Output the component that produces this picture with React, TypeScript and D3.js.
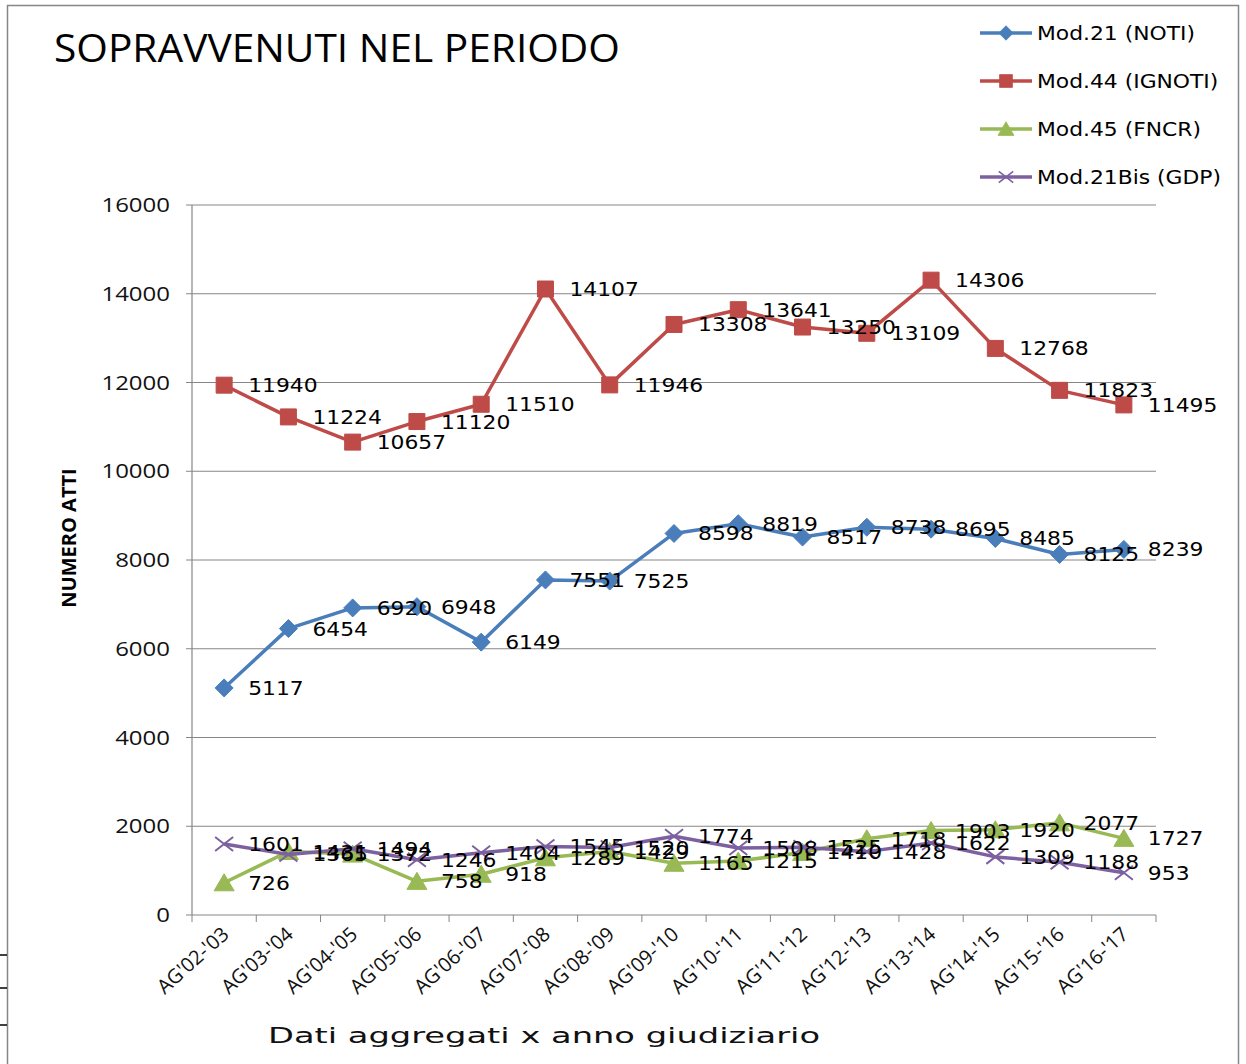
import * as d3 from 'd3';

const categories = [
  "AG'02-'03", "AG'03-'04", "AG'04-'05", "AG'05-'06", "AG'06-'07",
  "AG'07-'08", "AG'08-'09", "AG'09-'10", "AG'10-'11", "AG'11-'12",
  "AG'12-'13", "AG'13-'14", "AG'14-'15", "AG'15-'16", "AG'16-'17",
];

const noti = [5117, 6454, 6920, 6948, 6149, 7551, 7525, 8598, 8819, 8517, 8738, 8695, 8485, 8125, 8239];
const ignoti = [11940, 11224, 10657, 11120, 11510, 14107, 11946, 13308, 13641, 13250, 13109, 14306, 12768, 11823, 11495];
const fncr = [726, 1431, 1372, 758, 918, 1289, 1429, 1165, 1215, 1410, 1718, 1903, 1920, 2077, 1727];
const gdp = [1601, 1365, 1494, 1246, 1404, 1545, 1520, 1774, 1508, 1525, 1428, 1622, 1309, 1188, 953];

const yTicks = [0, 2000, 4000, 6000, 8000, 10000, 12000, 14000, 16000];

type Marker = 'diamond' | 'square' | 'triangle' | 'x';

const series: { name: string; values: number[]; color: string; marker: Marker }[] = [
  { name: 'Mod.21 (NOTI)', values: noti, color: '#4a7ebb', marker: 'diamond' },
  { name: 'Mod.44 (IGNOTI)', values: ignoti, color: '#be4b48', marker: 'square' },
  { name: 'Mod.45 (FNCR)', values: fncr, color: '#98b954', marker: 'triangle' },
  { name: 'Mod.21Bis (GDP)', values: gdp, color: '#7d60a0', marker: 'x' },
];

const W = 1246;
const H = 1064;
const plot = { left: 192, right: 1156, top: 205, bottom: 915 };

const numFont = '"DejaVu Sans", Verdana, sans-serif';
const axisFont = '"Open Sans", "Noto Sans", sans-serif';
// the reference looks stretched sideways, so texts get a small x-scale
const SX = 1.12;

function markerPath(m: Marker): string {
  switch (m) {
    case 'diamond':
      return 'M0,-9L9,0L0,9L-9,0Z';
    case 'square':
      return 'M-8,-8H8V8H-8Z';
    case 'triangle':
      return 'M0,-9L10,8L-10,8Z';
    case 'x':
      return 'M-9,-7L9,7M-9,7L9,-7';
  }
}

function MarkerShape({ m, color, x, y }: { m: Marker; color: string; x: number; y: number }) {
  const isX = m === 'x';
  return (
    <path
      d={markerPath(m)}
      transform={`translate(${x},${y})`}
      fill={isX ? 'none' : color}
      stroke={color}
      strokeWidth={isX ? 2 : 1}
    />
  );
}

export default function App() {
  const x = d3.scaleBand<string>().domain(categories).range([plot.left, plot.right]);
  const y = d3.scaleLinear().domain([0, 16000]).range([plot.bottom, plot.top]);
  const cx = (c: string) => (x(c) ?? 0) + x.bandwidth() / 2;

  const line = d3
    .line<number>()
    .x((_, i) => cx(categories[i]))
    .y((d) => y(d));

  const bounds = categories.map((c) => x(c) ?? 0).concat([plot.right]);

  return (
    <svg
      width={W}
      height={H}
      style={{ position: 'absolute', left: 0, top: 0, background: '#fff' }}
    >
      <rect x={7.5} y={5.5} width={1231} height={1070} fill="#fff" stroke="#868686" strokeWidth={1.5} />

      {/* stray table fragment at left edge */}
      {[955, 988, 1025].map((yy) => (
        <line key={yy} x1={0} x2={7} y1={yy} y2={yy} stroke="#000" strokeWidth={1.5} />
      ))}

      <text x={54} y={62} textLength={566} lengthAdjust="spacingAndGlyphs" fontFamily={axisFont} fontSize={38} fill="#000">
        SOPRAVVENUTI NEL PERIODO
      </text>

      {/* gridlines */}
      {yTicks.filter((t) => t > 0).map((t) => (
        <line key={t} x1={plot.left} x2={plot.right} y1={y(t)} y2={y(t)} stroke="#868686" strokeWidth={1} />
      ))}
      {/* y axis */}
      <line x1={plot.left} x2={plot.left} y1={plot.top} y2={plot.bottom} stroke="#868686" strokeWidth={1.2} />
      {yTicks.map((t) => (
        <g key={t}>
          <line x1={plot.left - 6} x2={plot.left} y1={y(t)} y2={y(t)} stroke="#868686" />
          <text
            transform={`translate(170,${y(t)}) scale(1.2,1)`}
            dy="0.35em"
            textAnchor="end"
            fontFamily={axisFont}
            fontSize={20}
            fill="#111"
          >
            {t}
          </text>
        </g>
      ))}
      {/* x axis */}
      <line x1={plot.left} x2={plot.right} y1={plot.bottom} y2={plot.bottom} stroke="#868686" strokeWidth={1.2} />
      {bounds.map((b, i) => (
        <line key={i} x1={b} x2={b} y1={plot.bottom} y2={plot.bottom + 7} stroke="#868686" />
      ))}
      {categories.map((c) => (
        <text
          key={c}
          transform={`translate(${cx(c) + 6},${plot.bottom + 21}) rotate(-42)`}
          textAnchor="end"
          fontFamily={axisFont}
          fontSize={20}
          fill="#111"
        >
          {c}
        </text>
      ))}

      <text
        transform={`translate(76,538) rotate(-90)`}
        textAnchor="middle"
        fontFamily={axisFont}
        fontSize={20}
        fontWeight="bold"
        fill="#000"
      >
        NUMERO ATTI
      </text>

      <text
        x={268}
        y={1043}
        textLength={552}
        lengthAdjust="spacingAndGlyphs"
        fontFamily={numFont}
        fontSize={22}
        fill="#111"
      >
        Dati aggregati x anno giudiziario
      </text>

      {/* series */}
      {series.map((s) => (
        <g key={s.name}>
          <path d={line(s.values) ?? ''} fill="none" stroke={s.color} strokeWidth={3.5} strokeLinejoin="round" />
          {s.values.map((v, i) => (
            <MarkerShape key={i} m={s.marker} color={s.color} x={cx(categories[i])} y={y(v)} />
          ))}
        </g>
      ))}

      {/* data labels */}
      {series.map((s) => (
        <g key={s.name + '-lab'}>
          {s.values.map((v, i) => (
            <text
              key={i}
              transform={`translate(${cx(categories[i]) + 24},${y(v)}) scale(${SX},1)`}
              dy="0.36em"
              fontFamily={numFont}
              fontSize={19.5}
              fill="#000"
            >
              {v}
            </text>
          ))}
        </g>
      ))}

      {/* legend */}
      {series.map((s, i) => {
        const ly = 33 + i * 48;
        return (
          <g key={s.name + '-leg'}>
            <line x1={980} x2={1032} y1={ly} y2={ly} stroke={s.color} strokeWidth={3.5} />
            <g transform={`translate(1006,${ly}) scale(0.8)`}>
              <MarkerShape m={s.marker} color={s.color} x={0} y={0} />
            </g>
            <text
              transform={`translate(1037,${ly}) scale(${SX},1)`}
              dy="0.36em"
              fontFamily={numFont}
              fontSize={19.5}
              fill="#000"
            >
              {s.name}
            </text>
          </g>
        );
      })}
    </svg>
  );
}
